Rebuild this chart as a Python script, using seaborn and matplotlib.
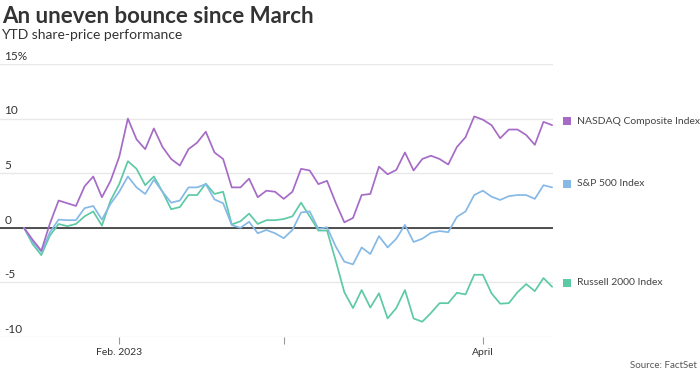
import numpy as np
import pandas as pd
import matplotlib
matplotlib.use('Agg')
import matplotlib.pyplot as plt
import matplotlib.transforms as mtransforms
import seaborn as sns

# trading-day positions (mid-Jan 2023 .. mid-Apr 2023)
days = list(range(62))

nasdaq = [0, -1.1, -2.1, 0.4, 2.5, 2.25, 2.0, 3.8, 4.7, 2.8,
          4.3, 6.5, 10.0, 8.1, 7.2, 9.1, 7.4, 6.3, 5.7, 7.2,
          7.8, 8.8, 6.9, 6.3, 3.7, 3.7, 4.5, 2.8, 3.4, 3.3,
          2.65, 3.3, 5.4, 5.25, 4.0, 4.3, 2.3, 0.5, 0.9, 3.0,
          3.1, 5.6, 4.9, 5.3, 6.9, 5.25, 6.3, 6.6, 6.3, 5.8,
          7.4, 8.3, 10.2, 9.9, 9.4, 8.2, 9.0, 9.0, 8.5, 7.6,
          9.7, 9.4]

sp500 = [0, -1.3, -2.2, -0.4, 0.75, 0.7, 0.7, 1.8, 2.0, 0.75,
         2.2, 3.3, 4.7, 3.7, 3.1, 4.4, 3.3, 2.3, 2.5, 3.7,
         3.7, 4.0, 2.6, 2.25, 0.25, 0.0, 0.55, -0.5, -0.2, -0.5,
         -0.95, -0.2, 1.4, 1.5, -0.1, 0.05, -1.7, -3.1, -3.35, -1.8,
         -2.4, -0.76, -1.8, -1.0, 0.27, -1.3, -1.0, -0.46, -0.3, -0.4,
         1.0, 1.5, 3.0, 3.4, 2.85, 2.55, 2.9, 3.0, 3.0, 2.65,
         3.9, 3.7]

russell = [0, -1.5, -2.5, -0.7, 0.35, 0.15, 0.35, 1.05, 1.5, 0.2,
           2.5, 4.0, 6.1, 5.4, 3.9, 4.7, 3.3, 1.7, 1.9, 3.0,
           3.0, 4.05, 3.1, 3.3, 0.3, 0.6, 1.3, 0.35, 0.7, 0.7,
           0.8, 1.05, 2.3, 1.05, -0.25, -0.25, -3.0, -5.9, -7.35, -5.7,
           -7.3, -6.0, -8.3, -7.35, -5.7, -8.3, -8.6, -7.8, -6.9, -6.9,
           -5.95, -6.1, -4.3, -4.3, -6.0, -6.95, -6.9, -5.9, -5.15, -5.8,
           -4.6, -5.4]

series_names = ['NASDAQ Composite Index', 'S&P 500 Index', 'Russell 2000 Index']
colors = ['#a66bc6', '#86b9e6', '#5dc9a5']
yticks = [-10, -5, 0, 5, 10, 15]
ytick_labels = ['-10', '-5', '0', '5', '10', '15%']
xtick_pos = [11, 30, 53]
xtick_labels = ['Feb. 2023', '', 'April']


def main():
    sns.set_style('white')
    plt.rcParams['font.family'] = ['Lato', 'DejaVu Sans']

    df = pd.DataFrame({'day': days,
                       series_names[0]: nasdaq,
                       series_names[1]: sp500,
                       series_names[2]: russell})
    long = df.melt(id_vars='day', var_name='index', value_name='pct')

    fig = plt.figure(figsize=(7, 3.76), dpi=100)
    ax = fig.add_axes([0.0, 0.1037, 0.79, 0.7261])

    sns.lineplot(data=long, x='day', y='pct', hue='index',
                 hue_order=series_names[::-1], palette=colors[::-1],
                 linewidth=1.25, legend=False, ax=ax)

    ax.set_xlim(-2.77, 61.1)
    ax.set_ylim(-10, 15)
    ax.set_yticks(yticks)
    ax.grid(axis='y', color='#e8e8e8', linewidth=1)
    ax.axhline(0, color='#222222', linewidth=1.1, zorder=1)
    for s in ax.spines.values():
        s.set_visible(False)

    ax.tick_params(axis='y', length=0, labelleft=False)
    ax.set_xticks(xtick_pos)
    ax.set_xticklabels(xtick_labels)
    ax.tick_params(axis='x', bottom=True, length=5, color='#999999', width=0.8,
                   labelsize=7.5, labelcolor='#333333', pad=3)
    ax.set_xlabel('')
    ax.set_ylabel('')

    trans = mtransforms.blended_transform_factory(ax.transAxes, ax.transData)
    for v, lab in zip(yticks, ytick_labels):
        ax.text(0.008, v + 0.2, lab, transform=trans, ha='left', va='bottom',
                fontsize=8.5, color='#333333')

    lasts = [nasdaq[-1], sp500[-1], russell[-1]]
    for name, col, last in zip(series_names, colors, lasts):
        ax.scatter([1.025], [last + 0.35], marker='s', s=26, color=col,
                   transform=trans, clip_on=False, linewidths=0)
        ax.text(1.043, last + 0.35, name, transform=trans, ha='left',
                va='center', fontsize=7.5, color='#444444')

    fig.text(0.003, 0.955, 'An uneven bounce since March', fontsize=16,
             fontweight='bold', color='#333333', ha='left', va='center')
    fig.text(0.001, 0.907, 'YTD share-price performance', fontsize=10,
             color='#333333', ha='left', va='center')
    fig.text(0.996, 0.027, 'Source: FactSet', fontsize=7,
             color='#555555', ha='right', va='center')

    fig.savefig('out.png', dpi=100)


if __name__ == '__main__':
    main()
